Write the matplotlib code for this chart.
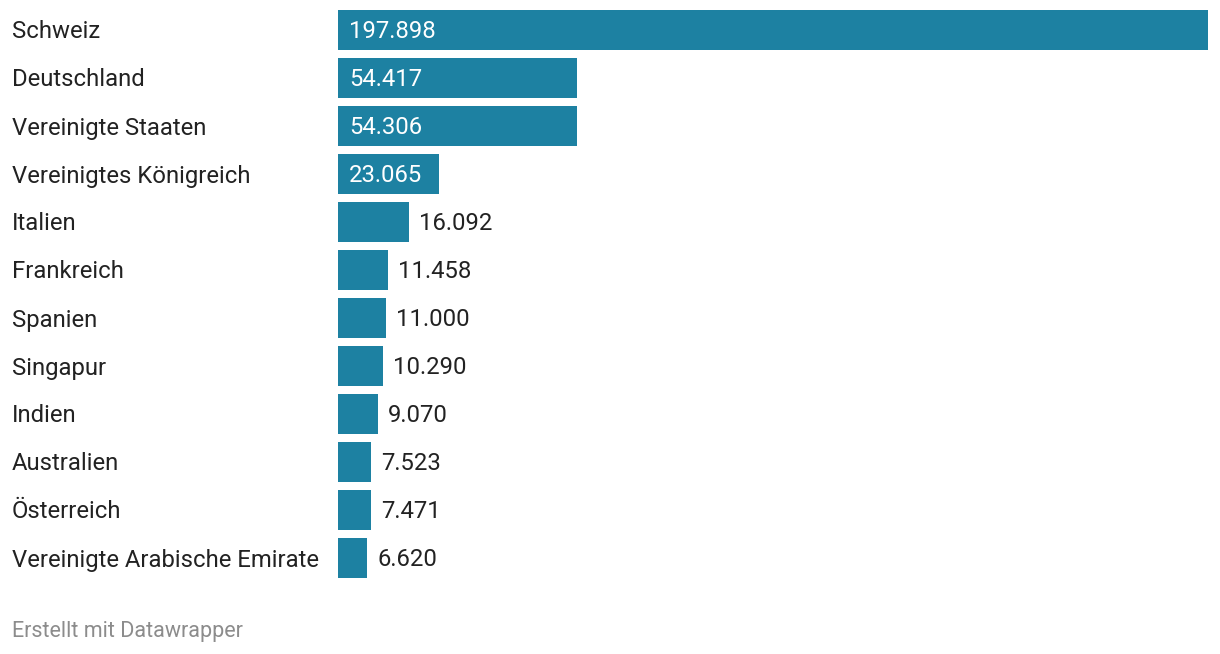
import matplotlib.pyplot as plt

plt.rcParams['font.family'] = ['Roboto', 'DejaVu Sans']

countries = ["Schweiz", "Deutschland", "Vereinigte Staaten", "Vereinigtes Königreich",
             "Italien", "Frankreich", "Spanien", "Singapur", "Indien", "Australien",
             "Österreich", "Vereinigte Arabische Emirate"]
values = [197.898, 54.417, 54.306, 23.065, 16.092, 11.458, 11.000, 10.290,
          9.070, 7.523, 7.471, 6.620]
labels = ["197.898", "54.417", "54.306", "23.065", "16.092", "11.458", "11.000",
          "10.290", "9.070", "7.523", "7.471", "6.620"]

W, H = 1220, 654
fig = plt.figure(figsize=(W / 100, H / 100), dpi=100)
ax = fig.add_axes([338 / W, 1 - 582 / H, (1208 - 338) / W, 576 / H])

bar_color = "#1d81a2"
ypos = list(range(len(values)))
ax.barh(ypos, values, height=40 / 48, color=bar_color)
ax.set_xlim(0, max(values))
ax.set_ylim(len(values) - 0.5, -0.5)
ax.axis("off")

px = max(values) / (1208 - 338)  # data units per pixel
dy = 2 / 48  # nudge text down a bit
fs = 17.2
for y, v, lab, name in zip(ypos, values, labels, countries):
    if v > 20:
        ax.text(11 * px, y + dy, lab, color="white", fontsize=fs, va="center", ha="left")
    else:
        ax.text(v + 10 * px, y + dy, lab, color="#222222", fontsize=fs, va="center", ha="left")
    ax.text(-326 * px, y + dy, name, color="#222222", fontsize=fs, va="center", ha="left")

fig.text(12 / W, 1 - 632 / H, "Erstellt mit Datawrapper", color="#8c8c8c",
         fontsize=15.5, va="center", ha="left")

fig.savefig("out.png", dpi=100)
